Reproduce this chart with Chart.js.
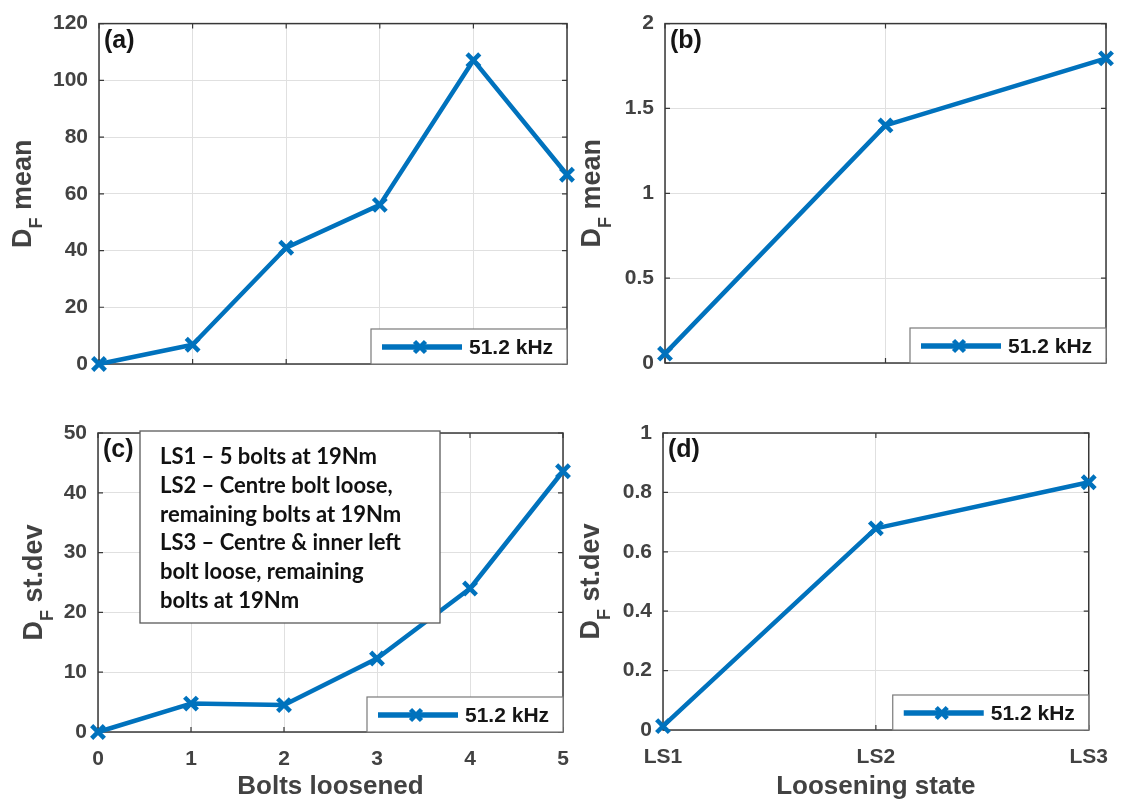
<!DOCTYPE html>
<html><head><meta charset="utf-8">
<script src="https://cdn.jsdelivr.net/npm/chart.js@4.4.1/dist/chart.umd.min.js"></script>
<style>
html,body{margin:0;padding:0;background:#fff;}
#wrap{position:relative;width:1123px;height:803px;overflow:hidden;background:#fff;}
canvas{position:absolute;left:0;top:0;}
</style></head><body>
<div id="wrap">
<canvas id="ca" width="1123" height="803"></canvas>
<canvas id="cb" width="1123" height="803"></canvas>
<canvas id="cc" width="1123" height="803"></canvas>
<canvas id="cd" width="1123" height="803"></canvas>
</div>
<script>
// ---- data ----
const boltsLoosened = ['0', '1', '2', '3', '4', '5'];
const loosenStates = ['LS1', 'LS2', 'LS3'];
const seriesLabel = '51.2 kHz';
const meanBolts = [0, 6.8, 41.0, 56.1, 107.1, 66.7];
const meanStates = [0.055, 1.40, 1.795];
const stdBolts = [0, 4.75, 4.5, 12.3, 24.0, 43.6];
const stdStates = [0.013, 0.679, 0.834];
const yTicksA = ['0', '20', '40', '60', '80', '100', '120'];
const yTicksB = ['0', '0.5', '1', '1.5', '2'];
const yTicksC = ['0', '10', '20', '30', '40', '50'];
const yTicksD = ['0', '0.2', '0.4', '0.6', '0.8', '1'];
const noteLines = [
  'LS1 \u2013 5 bolts at 19Nm',
  'LS2 \u2013 Centre bolt loose,',
  'remaining bolts at 19Nm',
  'LS3 \u2013 Centre & inner left',
  'bolt loose, remaining',
  'bolts at 19Nm'
];

// ---- style ----
const BLUE = '#0072BD';
const AXIS = '#383838';
const TXT = '#424242';
const FONT = '"Liberation Sans", Arial, sans-serif';
const TL = 5;

function drawX(ctx, x, y, r, w, color) {
  ctx.save();
  ctx.strokeStyle = color; ctx.lineWidth = w; ctx.lineCap = 'butt';
  ctx.beginPath();
  ctx.moveTo(x - r, y - r); ctx.lineTo(x + r, y + r);
  ctx.moveTo(x + r, y - r); ctx.lineTo(x - r, y + r);
  ctx.stroke();
  ctx.restore();
}

const matlabPlugin = {
  id: 'matlab',
  beforeDatasetsDraw(chart, args, o) {
    const {ctx, chartArea: a} = chart;
    const x = chart.scales.x, y = chart.scales.y;
    ctx.save();
    ctx.strokeStyle = AXIS; ctx.lineWidth = 1.2;
    ctx.beginPath();
    y.ticks.forEach(t => {
      const p = y.getPixelForValue(t.value);
      ctx.moveTo(a.left, p); ctx.lineTo(a.left + TL, p);
      ctx.moveTo(a.right, p); ctx.lineTo(a.right - TL, p);
    });
    x.ticks.forEach((t, i) => {
      const p = x.getPixelForTick(i);
      ctx.moveTo(p, a.bottom); ctx.lineTo(p, a.bottom - TL);
      ctx.moveTo(p, a.top); ctx.lineTo(p, a.top + TL);
    });
    ctx.stroke();
    ctx.lineWidth = 1.5;
    ctx.strokeRect(a.left, a.top, a.right - a.left, a.bottom - a.top);
    // panel label
    ctx.fillStyle = '#151515';
    ctx.font = 'bold 25px ' + FONT;
    ctx.textBaseline = 'top'; ctx.textAlign = 'left';
    ctx.fillText(o.label, a.left + 5, a.top + 5);
    // y title with subscript
    ctx.save();
    ctx.translate(o.yTitleX, (a.top + a.bottom) / 2);
    ctx.rotate(-Math.PI / 2);
    ctx.fillStyle = TXT; ctx.textBaseline = 'alphabetic'; ctx.textAlign = 'left';
    const big = 'bold 27px ' + FONT, small = 'bold 18px ' + FONT;
    ctx.font = big; const wD = ctx.measureText(o.yMain).width;
    const wR = ctx.measureText(o.yRest).width;
    ctx.font = small; const wS = ctx.measureText(o.ySub).width;
    let sx = -(wD + wS + wR) / 2;
    ctx.font = big; ctx.fillText(o.yMain, sx, 0);
    ctx.font = small; ctx.fillText(o.ySub, sx + wD, 11);
    ctx.font = big; ctx.fillText(o.yRest, sx + wD + wS, 0);
    ctx.restore();
    // x title
    if (o.xTitle) {
      ctx.fillStyle = TXT; ctx.font = 'bold 26px ' + FONT;
      ctx.textAlign = 'center'; ctx.textBaseline = 'alphabetic';
      ctx.fillText(o.xTitle, (a.left + a.right) / 2, o.xTitleY);
    }
    ctx.restore();
  },
  afterDraw(chart, args, o) {
    const {ctx, chartArea: a} = chart;
    const ds = chart.data.datasets[0];
    ctx.save();
    // legend
    const lw = 196, lh = 35;
    const lx = a.right - lw, ly = a.bottom - lh;
    ctx.fillStyle = '#fff';
    ctx.fillRect(lx, ly, lw, lh);
    ctx.strokeStyle = '#7a7a7a'; ctx.lineWidth = 1.2;
    ctx.strokeRect(lx, ly, lw, lh);
    const cy = ly + lh / 2 + 0.5;
    ctx.strokeStyle = ds.borderColor; ctx.lineWidth = 5.5;
    ctx.beginPath(); ctx.moveTo(lx + 11, cy); ctx.lineTo(lx + 91, cy); ctx.stroke();
    drawX(ctx, lx + 49, cy, 5.5, 4.5, ds.borderColor);
    ctx.fillStyle = '#161616'; ctx.font = 'bold 21px ' + FONT;
    ctx.textAlign = 'left'; ctx.textBaseline = 'middle';
    ctx.fillText(ds.label, lx + 98, cy + 1);
    // note box
    if (o.note) {
      const bx = a.left + 42, by = a.top - 2, bw = 300, bh = 192;
      ctx.fillStyle = '#fff'; ctx.fillRect(bx, by, bw, bh);
      ctx.strokeStyle = '#5a5a5a'; ctx.lineWidth = 1.3; ctx.strokeRect(bx, by, bw, bh);
      ctx.fillStyle = '#111'; ctx.font = 'bold 22px Lato, "Open Sans", sans-serif';
      ctx.textAlign = 'left'; ctx.textBaseline = 'alphabetic';
      o.note.forEach((s, i) => ctx.fillText(s, bx + 20, by + 33 + i * 28.8));
    }
    ctx.restore();
  }
};

function makeChart(id, labels, values, yMax, yStep, yLabels, showX, area, extra) {
  const WY = 60, HX = 40;
  return new Chart(document.getElementById(id), {
    type: 'line',
    data: {
      labels: labels,
      datasets: [{
        label: seriesLabel,
        data: values,
        borderColor: BLUE, backgroundColor: BLUE,
        borderWidth: 4.5, tension: 0, fill: false,
        borderJoinStyle: 'round',
        pointStyle: 'crossRot', pointRadius: 9, pointHoverRadius: 9,
        pointBorderWidth: 4.5, pointBorderColor: BLUE, pointBackgroundColor: BLUE,
        clip: false
      }]
    },
    options: {
      responsive: false, animation: false, devicePixelRatio: 1,
      events: [],
      layout: { padding: { left: area.L - WY, top: area.T, right: 1123 - area.R, bottom: 803 - area.B - HX } },
      scales: {
        x: {
          type: 'category', offset: false,
          afterFit: s => { s.height = HX; },
          grid: { color: '#e0e0e0', lineWidth: 1, drawTicks: false },
          border: { display: false },
          ticks: { display: showX, padding: 15, color: TXT, maxRotation: 0, autoSkip: false,
                   font: { family: FONT, size: 21, weight: 'bold' } }
        },
        y: {
          type: 'linear', min: 0, max: yMax,
          afterFit: s => { s.width = WY; },
          grid: { color: '#e0e0e0', lineWidth: 1, drawTicks: false },
          border: { display: false },
          ticks: { stepSize: yStep, padding: 11, color: TXT,
                   font: { family: FONT, size: 21, weight: 'bold' },
                   callback: (v, i) => yLabels[i] }
        }
      },
      plugins: {
        legend: { display: false },
        tooltip: { enabled: false },
        matlab: extra
      }
    },
    plugins: [matlabPlugin]
  });
}

makeChart('ca', boltsLoosened, meanBolts, 120, 20, yTicksA, false,
  { L: 99, R: 567, T: 20, B: 364 },
  { label: '(a)', yMain: 'D', ySub: 'F', yRest: ' mean', yTitleX: 31 });
makeChart('cb', loosenStates, meanStates, 2, 0.5, yTicksB, false,
  { L: 665, R: 1106, T: 18, B: 363 },
  { label: '(b)', yMain: 'D', ySub: 'F', yRest: ' mean', yTitleX: 600 });
makeChart('cc', boltsLoosened, stdBolts, 50, 10, yTicksC, true,
  { L: 98, R: 563, T: 433, B: 732 },
  { label: '(c)', yMain: 'D', ySub: 'F', yRest: ' st.dev', yTitleX: 42,
    xTitle: 'Bolts loosened', xTitleY: 794, note: noteLines });
makeChart('cd', loosenStates, stdStates, 1, 0.2, yTicksD, true,
  { L: 663, R: 1101, T: 433, B: 730 },
  { label: '(d)', yMain: 'D', ySub: 'F', yRest: ' st.dev', yTitleX: 599,
    xTitle: 'Loosening state', xTitleY: 794 });
</script>
</body></html>
